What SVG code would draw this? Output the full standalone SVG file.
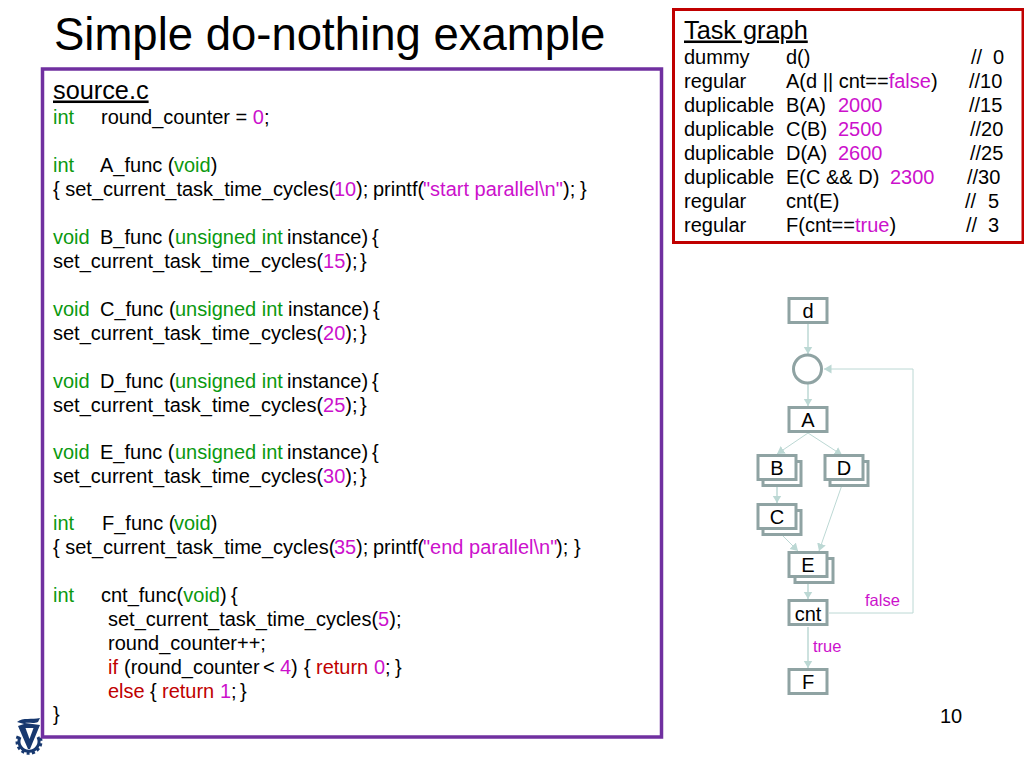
<svg xmlns="http://www.w3.org/2000/svg" width="1024" height="768" viewBox="0 0 1024 768">
<style>
text{font-family:"Liberation Sans",Arial,sans-serif;fill:#000}
.c{font-size:20px}
.g{fill:#0a990f}.m{fill:#cc11cc}.r{fill:#c00000}
.t{font-size:20px}
.n{fill:#fff;stroke:#8fa3a3;stroke-width:3}
.l{font-size:20px;text-anchor:middle}
.e{fill:none;stroke:#bcd8d4;stroke-width:1.5;marker-end:url(#a)}
.d{stroke-width:1}
.s{font-size:16.500px;fill:#cc11cc}
</style>
<defs><marker id="a" markerUnits="userSpaceOnUse" markerWidth="9" markerHeight="10" refX="7.500" refY="4.500" orient="auto"><path d="M0 0L7.500 4.500L0 9z" fill="#bcd8d4"/></marker></defs>
<rect width="1024" height="768" fill="#fff"/>
<text x="54" y="50" font-size="45.500">Simple do-nothing example</text>
<g id="logo">
<path d="M20 737A10 10 0 1 0 38 737" fill="none" stroke="#17386f" stroke-width="7" stroke-dasharray="2.500 2"/>
<path d="M20 737A10 10 0 1 0 38 737" fill="#fff" stroke="#17386f" stroke-width="3"/>
<path d="M17 722C23 717 32 720 40 718L38 722C33 724 29 722 25 723L40 725L30 749L28 749L18 726L24 724z" fill="#17386f"/>
<path d="M25.500 728L33.500 728L29.500 739z" fill="#fff"/>
</g>
<rect id="source-panel" x="42.500" y="69" width="619" height="668" fill="#fff" stroke="#7030a0" stroke-width="3.500"/>
<g id="source" class="c">
<text x="53" y="98.500" font-size="25.300" text-decoration="underline">source.c</text>
<text y="124"><tspan x="53" class="g">int</tspan><tspan x="101">round_counter = </tspan><tspan class="m">0</tspan>;</text>
<text y="172"><tspan x="53" class="g">int</tspan><tspan x="100">A_func (</tspan><tspan class="g" x="174">void</tspan>)</text>
<text y="196"><tspan x="53">{ set_current_task_time_cycles(</tspan><tspan class="m" x="334">10</tspan><tspan x="356">);</tspan><tspan x="373">printf(</tspan><tspan class="m" x="423">"start parallel\n"</tspan><tspan x="563">);</tspan><tspan x="580">}</tspan></text>
<text y="244"><tspan x="53" class="g">void</tspan><tspan x="100">B_func (</tspan><tspan class="g" x="175">unsigned int</tspan><tspan x="287">instance)</tspan><tspan x="372">{</tspan></text>
<text y="268"><tspan x="53">set_current_task_time_cycles(</tspan><tspan class="m">15</tspan>);<tspan x="360">}</tspan></text>
<text y="315.500"><tspan x="53" class="g">void</tspan><tspan x="100">C_func (</tspan><tspan class="g" x="175">unsigned int</tspan><tspan x="288">instance)</tspan><tspan x="373">{</tspan></text>
<text y="339.500"><tspan x="53">set_current_task_time_cycles(</tspan><tspan class="m">20</tspan>);<tspan x="360">}</tspan></text>
<text y="387.500"><tspan x="53" class="g">void</tspan><tspan x="100">D_func (</tspan><tspan class="g" x="175">unsigned int</tspan><tspan x="287">instance)</tspan><tspan x="372">{</tspan></text>
<text y="411.500"><tspan x="53">set_current_task_time_cycles(</tspan><tspan class="m">25</tspan>);<tspan x="360">}</tspan></text>
<text y="459"><tspan x="53" class="g">void</tspan><tspan x="100">E_func (</tspan><tspan class="g" x="175">unsigned int</tspan><tspan x="287">instance)</tspan><tspan x="372">{</tspan></text>
<text y="483"><tspan x="53">set_current_task_time_cycles(</tspan><tspan class="m">30</tspan>);<tspan x="360">}</tspan></text>
<text y="530"><tspan x="53" class="g">int</tspan><tspan x="102">F_func (</tspan><tspan class="g" x="174">void</tspan>)</text>
<text y="554"><tspan x="53">{ set_current_task_time_cycles(</tspan><tspan class="m" x="334">35</tspan><tspan x="356">);</tspan><tspan x="373">printf(</tspan><tspan class="m" x="423">"end parallel\n"</tspan><tspan x="556">);</tspan><tspan x="574">}</tspan></text>
<text y="602"><tspan x="53" class="g">int</tspan><tspan x="101">cnt_func(</tspan><tspan class="g">void</tspan>)<tspan x="231">{</tspan></text>
<text y="626" x="108">set_current_task_time_cycles(<tspan class="m">5</tspan>);</text>
<text y="649.500" x="108">round_counter++;</text>
<text y="673.500"><tspan x="108" class="r">if</tspan><tspan x="124">(round_counter</tspan><tspan x="263">&lt;</tspan><tspan class="m" x="280">4</tspan><tspan x="291">)</tspan><tspan x="304">{</tspan><tspan class="r" x="316">return</tspan><tspan class="m" x="374">0</tspan><tspan x="385">;</tspan><tspan x="395">}</tspan></text>
<text y="697.500"><tspan x="108" class="r">else</tspan><tspan x="150">{</tspan><tspan class="r" x="162">return</tspan><tspan class="m" x="220">1</tspan><tspan x="231">;</tspan><tspan x="240">}</tspan></text>
<text y="721" x="53">}</text>
</g>
<rect id="task-panel" x="673.500" y="9.500" width="349.500" height="233" fill="#fff" stroke="#c00000" stroke-width="3"/>
<g id="task-graph" class="t">
<text x="684" y="38.500" font-size="25.300" text-decoration="underline">Task graph</text>
<text y="64.300"><tspan x="684">dummy</tspan><tspan x="786">d()</tspan><tspan x="971">//</tspan><tspan x="993">0</tspan></text>
<text y="88.300"><tspan x="684">regular</tspan><tspan x="786">A(d || cnt==</tspan><tspan class="m">false</tspan>)<tspan x="969">//10</tspan></text>
<text y="112"><tspan x="684">duplicable</tspan><tspan x="786">B(A)</tspan><tspan class="m" x="838">2000</tspan><tspan x="969">//15</tspan></text>
<text y="136"><tspan x="684">duplicable</tspan><tspan x="786">C(B)</tspan><tspan class="m" x="838">2500</tspan><tspan x="970">//20</tspan></text>
<text y="160"><tspan x="684">duplicable</tspan><tspan x="786">D(A)</tspan><tspan class="m" x="838">2600</tspan><tspan x="970">//25</tspan></text>
<text y="184"><tspan x="684">duplicable</tspan><tspan x="786">E(C &amp;&amp; D)</tspan><tspan class="m" x="890">2300</tspan><tspan x="967">//30</tspan></text>
<text y="208"><tspan x="684">regular</tspan><tspan x="786">cnt(E)</tspan><tspan x="965">//</tspan><tspan x="988">5</tspan></text>
<text y="232"><tspan x="684">regular</tspan><tspan x="786">F(cnt==</tspan><tspan class="m">true</tspan>)<tspan x="966">//</tspan><tspan x="988">3</tspan></text>
</g>
<g id="connectors">
<path class="e" d="M808 324V354"/>
<path class="e" d="M808 384V406"/>
<path class="e d" d="M808 433L777 454"/>
<path class="e d" d="M808 433L842 455"/>
<path class="e" d="M777 487V503"/>
<path class="e d" d="M843 482L819 551"/>
<path class="e d" d="M777 530L798 551"/>
<path class="e" d="M808 578V599"/>
<path class="e" d="M808 627V668"/>
<path class="e d" d="M829 613H913V369H824"/>
</g>
<g id="node-d"><rect class="n" x="789" y="298.500" width="38" height="24"/><text class="l" x="808" y="318">d</text></g>
<g id="node-join"><circle class="n" cx="807.500" cy="369" r="14"/></g>
<g id="node-A"><rect class="n" x="789" y="407.500" width="38" height="24"/><text class="l" x="808" y="427">A</text></g>
<g id="node-B"><rect class="n" x="763" y="461.500" width="38" height="24"/><rect class="n" x="758" y="455.500" width="38" height="24"/><text class="l" x="777" y="475">B</text></g>
<g id="node-D"><rect class="n" x="830" y="461.500" width="38" height="24"/><rect class="n" x="825" y="455.500" width="38" height="24"/><text class="l" x="844" y="475">D</text></g>
<g id="node-C"><rect class="n" x="763" y="510.500" width="38" height="24"/><rect class="n" x="758" y="504.500" width="38" height="24"/><text class="l" x="777" y="523.500">C</text></g>
<g id="node-E"><rect class="n" x="795" y="558.500" width="38" height="24"/><rect class="n" x="789" y="552.500" width="38" height="24"/><text class="l" x="808" y="572">E</text></g>
<g id="node-cnt"><rect class="n" x="789" y="600.500" width="38" height="24"/><text class="l" x="808" y="620.500">cnt</text></g>
<g id="node-F"><rect class="n" x="789" y="669.500" width="38" height="24"/><text class="l" x="808" y="688.500">F</text></g>
<text class="s" x="865" y="606">false</text>
<text class="s" x="813" y="652">true</text>
<text x="940" y="723" font-size="20">10</text>
</svg>
